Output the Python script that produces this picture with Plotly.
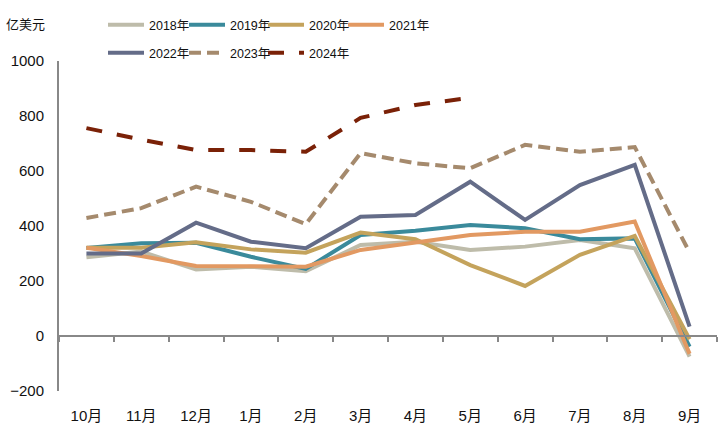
import plotly.graph_objects as go

months = ["10月", "11月", "12月", "1月", "2月", "3月", "4月", "5月", "6月", "7月", "8月", "9月"]

y2018 = [286, 307, 242, 252, 236, 331, 343, 313, 325, 349, 319, -75]
y2019 = [320, 337, 339, 288, 244, 367, 383, 404, 392, 352, 355, -39]
y2020 = [321, 321, 341, 315, 303, 376, 352, 258, 182, 295, 364, -12]
y2021 = [321, 291, 255, 252, 252, 313, 339, 367, 379, 379, 416, -65]
y2022 = [300, 300, 412, 343, 319, 434, 440, 561, 422, 549, 622, 34]
y2023 = [429, 465, 543, 488, 407, 665, 628, 610, 695, 670, 687, 304]
y2024 = [756, 714, 676, 676, 670, 793, 840, 866, None, None, None, None]

series_names = ["2018年", "2019年", "2020年", "2021年", "2022年", "2023年", "2024年"]
series_values = [y2018, y2019, y2020, y2021, y2022, y2023, y2024]
colors = ["#BEBCAA", "#3A8A9B", "#C4A35C", "#E29962", "#646C88", "#A58A6D", "#7A2107"]
dashes = ["solid", "solid", "solid", "solid", "solid", "12px,6px", "16px,15px"]

FONT = "Liberation Sans, Arial, Noto Sans CJK SC, sans-serif"

L, R, T, B = 59, 8, 61, 48
W, H = 725, 439
pw, ph = W - L - R, H - T - B

def px_x(v):
    return (v - L) / pw

def px_y(v):
    return (H - B - v) / ph

# legend slot positions (pixel left of entry, pixel centre y)
leg_pos = [(103, 25), (184, 25), (263, 25), (343, 25), (103, 53), (184, 53), (263, 53)]

fig = go.Figure()
layout_legends = {}
for i, (name, ys, color, dash) in enumerate(zip(series_names, series_values, colors, dashes)):
    key = "legend" if i == 0 else f"legend{i + 1}"
    fig.add_trace(go.Scatter(
        x=months, y=ys, name=name, mode="lines",
        line=dict(color=color, width=4, dash=dash),
        legend=key, connectgaps=False,
    ))
    lx, ly = leg_pos[i]
    layout_legends[key] = dict(
        orientation="h", x=px_x(lx), y=px_y(ly), xanchor="left", yanchor="middle",
        itemwidth=36, font=dict(size=12.5, family=FONT, color="#111111"),
        bgcolor="rgba(0,0,0,0)",
    )

# hidden helper trace for the zero-line axis with boundary ticks
fig.add_trace(go.Scatter(x=months, y=[None] * len(months), xaxis="x2",
                         showlegend=False, hoverinfo="skip", mode="lines"))

axis_color = "#888888"
fig.update_layout(
    width=W, height=H,
    margin=dict(l=L, r=R, t=T, b=B, autoexpand=False),
    paper_bgcolor="white", plot_bgcolor="white",
    font=dict(family=FONT, size=15, color="#111111"),
    showlegend=True,
    xaxis=dict(
        type="category", categoryarray=months, range=[-0.5, 11.5],
        showline=False, showgrid=False, zeroline=False, ticks="",
        ticklabelstandoff=14, tickfont=dict(size=15),
    ),
    xaxis2=dict(
        type="category", categoryarray=months, range=[-0.5, 11.5],
        overlaying="x", anchor="free", position=1 / 6,
        showline=True, linecolor=axis_color, linewidth=2,
        ticks="outside", tickson="boundaries", ticklen=5, tickwidth=1.5,
        tickcolor=axis_color, showticklabels=False, showgrid=False,
        zeroline=False,
    ),
    yaxis=dict(
        range=[-200, 1000], tickvals=[-200, 0, 200, 400, 600, 800, 1000],
        showline=True, linecolor=axis_color, linewidth=2,
        showgrid=False, zeroline=False, ticks="",
        ticklabelstandoff=10, tickfont=dict(size=15),
    ),
    annotations=[dict(
        text="亿美元", xref="paper", yref="paper", x=px_x(4), y=px_y(25),
        xanchor="left", yanchor="middle", showarrow=False,
        font=dict(size=13, family=FONT),
    )],
    **layout_legends,
)

fig.write_html("out.html", config={"displayModeBar": False},
               post_script="document.body.style.margin='0';")
